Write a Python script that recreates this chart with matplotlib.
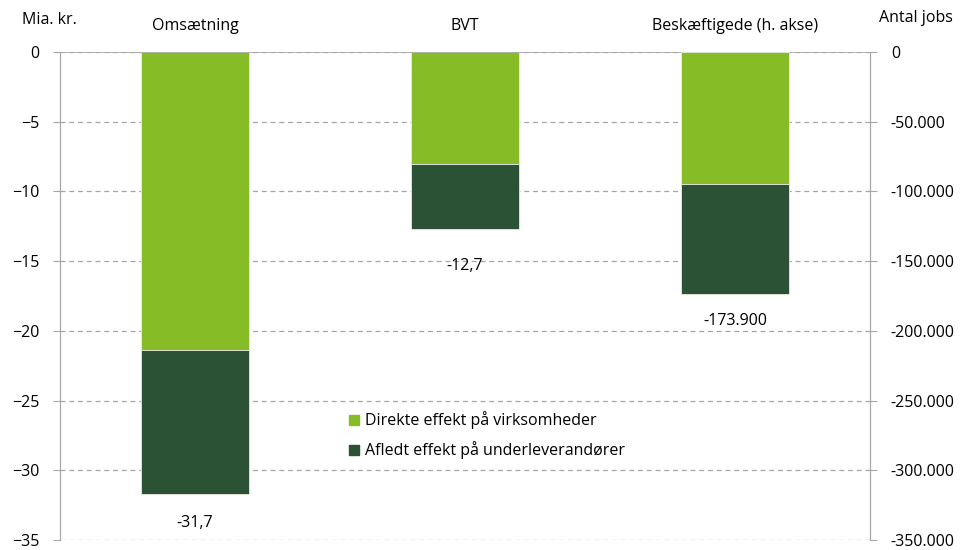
import matplotlib
matplotlib.use("Agg")
from matplotlib import pyplot as plt
from matplotlib.lines import Line2D
from matplotlib.ticker import FuncFormatter

plt.rcParams['font.family'] = ['Open Sans', 'DejaVu Sans']

categories = ["Omsætning", "BVT", "Beskæftigede (h. akse)"]
# Mia. kr. (left axis)
direct_left = [-21.4, -8.0]
derived_left = [-10.3, -4.7]
totals_left = ["-31,7", "-12,7"]
# antal jobs (right axis)
direct_right = [-94700]
derived_right = [-79200]
totals_right = ["-173.900"]

light = "#86bc25"
dark = "#2b5234"
grid_col = "#a6a6a6"
fs = 11.5

fig = plt.figure(figsize=(9.71, 5.5), dpi=100)
ax = fig.add_axes([60 / 971, 10 / 550, 810 / 971, 488 / 550])
ax2 = ax.twinx()

w = 0.4
x_left = [0, 1]
ax.bar(x_left, direct_left, w, color=light, edgecolor="#e8ede0", linewidth=0.6, zorder=3)
ax.bar(x_left, derived_left, w, bottom=direct_left, color=dark, edgecolor="#e8ede0", linewidth=0.6, zorder=3)
# label gaps below bars (as placed in the original)
gaps_left = [2.1, 2.65]
for xi, d, dd, lab, g in zip(x_left, direct_left, derived_left, totals_left, gaps_left):
    ax.text(xi, d + dd - g, lab, ha="center", va="center", fontsize=fs)

ax2.bar([2], direct_right, w, color=light, edgecolor="#e8ede0", linewidth=0.6, zorder=3)
ax2.bar([2], derived_right, w, bottom=direct_right, color=dark, edgecolor="#e8ede0", linewidth=0.6, zorder=3)
for d, dd, lab in zip(direct_right, derived_right, totals_right):
    ax2.text(2, d + dd - 18800, lab, ha="center", va="center", fontsize=fs)

ax.set_xlim(-0.5, 2.5)
ax.set_ylim(-35, 0)
ax2.set_ylim(-350000, 0)
ax.set_yticks(range(-35, 1, 5))
ax2.set_yticks(range(-350000, 1, 50000))
ax2.yaxis.set_major_formatter(FuncFormatter(lambda v, p: f"{int(v):,}".replace(",", ".")))

ax.set_xticks([])
ax.grid(axis="y", linestyle=(0, (4, 3)), color=grid_col, linewidth=0.9, zorder=0)
for a in (ax, ax2):
    a.spines["bottom"].set_visible(False)
    a.spines["top"].set_visible(False)
    a.spines["left"].set_color(grid_col)
    a.spines["right"].set_color(grid_col)
    a.tick_params(axis="y", length=5, color=grid_col, labelsize=fs, pad=10)
ax.axhline(0, color=grid_col, linewidth=1.2, zorder=4)

for i, c in enumerate(categories):
    ax.text(i, 1.9, c, ha="center", va="center", fontsize=fs, clip_on=False)
fig.text(49 / 971, 1 - 20 / 550, "Mia. kr.", ha="center", va="center", fontsize=fs)
fig.text(916 / 971, 1 - 18 / 550, "Antal jobs", ha="center", va="center", fontsize=fs)

handles = [
    Line2D([], [], marker="s", linestyle="none", markersize=7.5, color=light),
    Line2D([], [], marker="s", linestyle="none", markersize=7.5, color=dark),
]
ax.legend(handles, ["Direkte effekt på virksomheder", "Afledt effekt på underleverandører"],
          loc="upper left", bbox_to_anchor=(278 / 810, (540 - 405) / 488),
          frameon=False, fontsize=fs, handletextpad=0.1, labelspacing=0.75,
          borderaxespad=0, handlelength=1.2)

fig.savefig("out.png", dpi=100)
